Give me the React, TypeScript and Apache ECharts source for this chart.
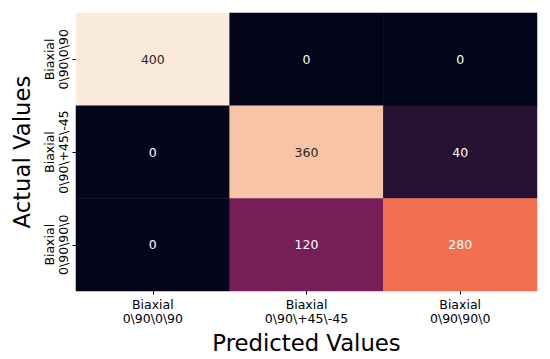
import React, { useEffect, useRef } from "react";
import * as echarts from "echarts";

const predictedLabels = ["Biaxial\n0\\90\\0\\90", "Biaxial\n0\\90\\+45\\-45", "Biaxial\n0\\90\\90\\0"];
const actualLabels = ["Biaxial\n0\\90\\0\\90", "Biaxial\n0\\90\\+45\\-45", "Biaxial\n0\\90\\90\\0"];
// rows = actual, columns = predicted
const matrix = [
  [400, 0, 0],
  [0, 360, 40],
  [0, 120, 280],
];
const rocket = ["#03051a", "#35193e", "#701f57", "#ad1759", "#e13342", "#f37651", "#f6b48f", "#faebdd"];

const FONT = "DejaVu Sans";

export default function App() {
  const ref = useRef<HTMLDivElement>(null);
  useEffect(() => {
    const chart = echarts.init(ref.current!, null, { renderer: "svg" });
    const data: any[] = [];
    matrix.forEach((row, r) =>
      row.forEach((v, c) => {
        data.push({
          value: [c, r, v],
          label: { color: v > 300 ? "#262626" : "#ffffff" },
        });
      })
    );
    chart.setOption({
      animation: false,
      textStyle: { fontFamily: FONT },
      grid: { left: 76, right: 13, top: 13, bottom: 67 },
      xAxis: {
        type: "category",
        data: predictedLabels,
        name: "Predicted Values",
        nameLocation: "middle",
        nameGap: 39,
        nameTextStyle: { fontSize: 22.75, color: "#000", fontFamily: FONT, lineHeight: 23 },
        axisLine: { show: false },
        axisTick: { show: true, alignWithLabel: true, length: 3.5, lineStyle: { color: "#000", width: 1 } },
        axisLabel: { interval: 0, fontSize: 12.5, lineHeight: 14.5, color: "#000", margin: 6, fontFamily: FONT },
        splitLine: { show: false },
      },
      yAxis: {
        type: "category",
        data: actualLabels,
        inverse: true,
        name: "Actual Values",
        nameLocation: "middle",
        nameRotate: 90,
        nameGap: 43,
        nameTextStyle: { fontSize: 22.75, color: "#000", fontFamily: FONT, lineHeight: 23 },
        axisLine: { show: false },
        axisTick: { show: true, alignWithLabel: true, length: 3.5, lineStyle: { color: "#000", width: 1 } },
        axisLabel: { interval: 0, fontSize: 12.5, lineHeight: 14.5, color: "#000", margin: 5, rotate: 90, fontFamily: FONT, hideOverlap: false },
        splitLine: { show: false },
      },
      visualMap: {
        show: false,
        type: "continuous",
        min: 0,
        max: 400,
        dimension: 2,
        inRange: { color: rocket },
      },
      series: [
        {
          type: "heatmap",
          data,
          label: { show: true, fontSize: 12.5, fontFamily: FONT },
          itemStyle: { borderWidth: 0 },
          emphasis: { disabled: true },
        },
      ],
    });
    return () => chart.dispose();
  }, []);
  return <div ref={ref} style={{ width: 550, height: 359, position: "absolute", left: 0, top: 0 }} />;
}
